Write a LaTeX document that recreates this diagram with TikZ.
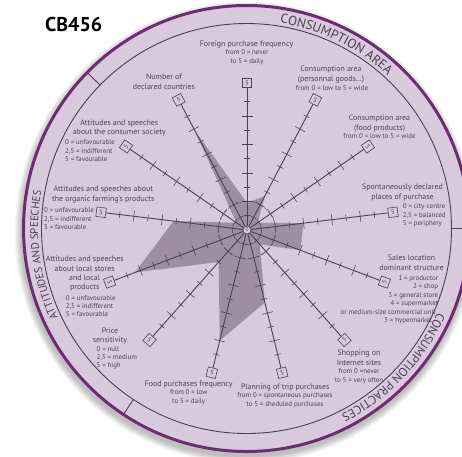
\documentclass[tikz,border=0pt]{standalone}
\usepackage{fontspec}
\setmainfont{PT Sans}
\usetikzlibrary{decorations.text}

\definecolor{disk}{RGB}{216,201,221}
\definecolor{rim}{RGB}{110,45,112}
\definecolor{ink}{RGB}{78,62,82}
\definecolor{labelink}{RGB}{80,64,84}
\definecolor{area}{RGB}{158,141,163}
\definecolor{dashcol}{RGB}{112,95,117}

\newcommand\mainsize{\fontsize{7.9}{9}\selectfont}
\newcommand\subsize{\fontsize{6.9}{8}\selectfont}
\newcommand\rimfont[1]{\fontsize{#1}{14}\selectfont\color{ink}}
\newcommand\unitlen{28.5}

% one node per text line: name, options, x, first baseline, line step, lines
\newcommand\labellines[6]{%
  \foreach \txt [count=\n] in {#6}
    \node[labeltext,#2] (#1-\n) at (#3,{#4+(\n-1)*#5}) {\txt};}

\begin{document}
\begin{tikzpicture}[x=1pt,y=-1pt,
  labeltext/.style={inner sep=0pt, text=labelink},
  mainlbl/.style={font=\mainsize},
  sublbl/.style={font=\subsize},
  axisline/.style={draw=ink, line width=0.9pt},
  tickline/.style={draw=ink, line width=0.55pt},
  valbox/.style={draw=ink, fill=disk, line width=0.6pt, minimum size=9.5pt,
    inner sep=0pt, font=\fontsize{6.5}{6.5}\selectfont, text=ink},
  hub/.style={draw=ink, fill=disk, circle, line width=0.6pt, minimum size=8pt,
    inner sep=0pt, font=\fontsize{5.5}{5.5}\selectfont, text=ink}]
\useasboundingbox (0,0) rectangle (462,456);
\clip (0,0) rectangle (462,456);

% ---- disk, rim and sector captions
\begin{scope}[shift={(246.5,228.5)}, y=1pt]
  \foreach \i in {0,...,7}
    \fill[black, opacity=0.035] (-1,-4) circle[radius=224.5+\i*0.9];
  \fill[disk] (0,0) circle[radius=224];
  \draw[rim, line width=3pt] (0,0) circle[radius=223];
  \draw[ink, line width=0.9pt] (0,0) circle[radius=205];
  \foreach \d in {135.6,0,236.5}
    \draw[ink, line width=0.9pt] (\d:205) -- (\d:222);
  \path[decorate, decoration={text along path, text align=center,
      text={|\rimfont{13.2}|CONSUMPTION AREA}}]
    (104:208.3) arc[start angle=104, end angle=24, radius=208.3];
  \path[decorate, decoration={text along path, text align=center,
      text={|\rimfont{12.2}|CONSUMPTION PRACTICES}}]
    (-3.3:208.5) arc[start angle=-3.3, end angle=-83.3, radius=208.5];
  \path[decorate, decoration={text along path, text align=center,
      text={|\rimfont{11}|ATTITUDES AND SPEECHES}}]
    (227.5:208.5) arc[start angle=227.5, end angle=147.5, radius=208.5];
\end{scope}

% ---- radar: profile, reference circle, axes
\begin{scope}[shift={(247,230)}, y=1pt]
  \fill[area] (90:{0.95*\unitlen}) -- (62.31:{1.35*\unitlen})
    -- (34.62:{0.45*\unitlen}) -- (6.92:{2.0*\unitlen})
    -- (-20.77:{2.0*\unitlen}) -- (-48.46:{0.67*\unitlen})
    -- (-76.15:{2.62*\unitlen}) -- (-103.85:{4.0*\unitlen})
    -- (-131.54:{1.5*\unitlen}) -- (-159.23:{4.2*\unitlen})
    -- (-186.92:{2.6*\unitlen}) -- (-214.62:{0.45*\unitlen})
    -- (-242.31:{3.95*\unitlen}) -- cycle;
  \draw[dashcol, line width=0.6pt, dash pattern=on 2.5pt off 2pt]
    (0,0) circle[radius=\unitlen];
  \node[hub] (c0) at (0,0) {0};
  \foreach \k/\r in {0/0,1/-27.7,2/-55.4,3/6.9,4/69.2,5/41.5,6/13.8,
                     7/-13.8,8/-41.5,9/-69.2,10/-6.9,11/55.4,12/27.7}{
    \pgfmathsetmacro\a{90-360/13*\k}
    \node[valbox, rotate=\r] (b\k) at (\a:147) {5};
    \draw[axisline] (c0) -- (b\k);
    \begin{scope}[rotate=\a]
      \foreach \j in {1,...,9}{
        \pgfmathsetmacro\h{ifthenelse(mod(\j,2)==0,5.5,3.3)}
        \draw[tickline] ({\j*\unitlen/2},-\h) -- ({\j*\unitlen/2},\h);
      }
    \end{scope}
  }
\end{scope}

% ---- title
\node[anchor=base west, inner sep=0pt, font=\fontsize{20}{24}\selectfont\bfseries]
  (code) at (45,31.7) {CB456};

% ---- axis captions
\labellines{forA}{mainlbl,anchor=base}{246.5}{46}{9.4}{Foreign purchase frequency}
\labellines{forB}{sublbl,anchor=base}{247}{54.8}{8.4}{from 0 = never, to 5 = daily}
\labellines{pgA}{mainlbl,anchor=base}{331}{71.8}{9.4}{Consumption area, (personnal goods\ldots)}
\labellines{pgB}{sublbl,anchor=base}{332}{90.1}{8.4}{from 0 = low to 5 = wide}
\labellines{fpA}{mainlbl,anchor=base}{379.5}{120.8}{9.4}{Consumption area, (food products)}
\labellines{fpB}{sublbl,anchor=base}{379.5}{138.8}{8.4}{from 0 = low to 5 = wide}
\labellines{spA}{mainlbl,anchor=base}{402.5}{189.8}{10}{Spontaneously declared, places of purchase}
\labellines{spB}{sublbl,anchor=base west}{402.7}{208.8}{8.3}{0 = city-centre, {2,5 = balanced}, 5 = periphery}
\labellines{slA}{mainlbl,anchor=base}{411.5}{260.8}{9.4}{Sales location, dominant structure}
\labellines{slB}{sublbl,anchor=base east}{438.3}{280.4}{8.4}{1 = productor, 2 = shop, 3 = general store, 4 = supermarket}
\labellines{slC}{sublbl,anchor=base east}{436}{314.4}{8.4}{or medium-size commercial unit}
\labellines{slD}{sublbl,anchor=base east}{432.5}{322.8}{8.4}{5 = hypermarket}
\labellines{isA}{mainlbl,anchor=base}{359}{355.8}{9.4}{Shopping on, Internet sites}
\labellines{isB}{sublbl,anchor=base}{359}{373.8}{8.3}{from 0 =never, to 5 = very often}
\labellines{ptA}{mainlbl,anchor=base}{285.2}{389.8}{9.4}{Planning of trip purchases}
\labellines{ptB}{sublbl,anchor=base}{285}{397.8}{8.3}{from 0 = spontaneous purchases, to 5 = sheduled purchases}
\labellines{ffA}{mainlbl,anchor=base}{188.7}{386.8}{9.4}{Food purchases frequency}
\labellines{ffB}{sublbl,anchor=base}{188.7}{394.8}{8.6}{from 0 = low, to 5 = daily}
\labellines{psA}{mainlbl,anchor=base}{110}{333.2}{9.3}{Price, sensitivity}
\labellines{psB}{sublbl,anchor=base west}{96.5}{351.1}{8.3}{0 = null, {2,5 = medium}, 5 = high}
\labellines{lsA}{mainlbl,anchor=base}{84.7}{261.8}{9.3}{Attitudes and speeches, about local stores, and local, products}
\labellines{lsB}{sublbl,anchor=base west}{65.7}{300.1}{8.4}{0 = unfavourable, {2,5 = indifferent}, 5 = favourable}
\labellines{ofA}{mainlbl,anchor=base}{103.3}{191.8}{9.4}{Attitudes and speeches about, the organic farming's products}
\labellines{ofB}{sublbl,anchor=base west}{44}{212.8}{8.3}{0 = unfavourable, {2,5 = indifferent}, 5 = favourable}
\labellines{csA}{mainlbl,anchor=base}{119.3}{125.2}{9.6}{Attitudes and speeches, about the consumer society}
\labellines{csB}{sublbl,anchor=base west}{65}{144.8}{8.3}{0 = unfavourable, {2,5 = indifferent}, 5 = favourable}
\labellines{ndA}{mainlbl,anchor=base}{164}{79.2}{10}{Number of, declared countries}
\end{tikzpicture}
\end{document}
